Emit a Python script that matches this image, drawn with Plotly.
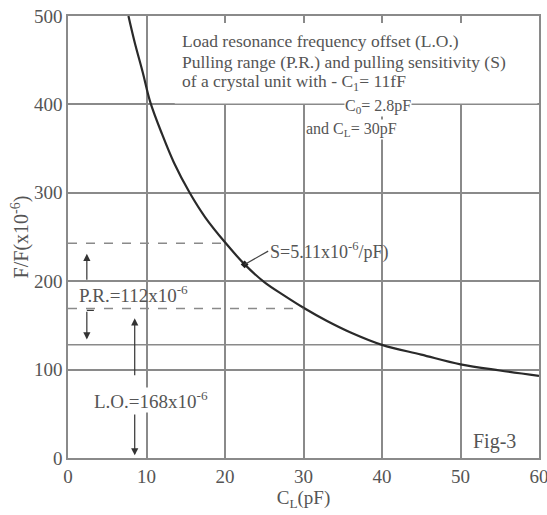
import plotly.graph_objects as go

# ---- data ----
cl_pf = [7.7, 8.5, 9.5, 10.5, 12, 13.5, 15.5, 17.5, 20, 22.5, 25, 27.5, 30, 33, 36, 40, 45, 50, 55, 60]
offset_ppm = [500, 470, 437, 402, 366, 334, 300, 272, 244, 219, 199, 184, 170, 155, 142, 128, 117, 106, 99, 93]

x_ticks = [0, 10, 20, 30, 40, 50, 60]
y_ticks = [0, 100, 200, 300, 400, 500]
extra_grid_y = 128
pr_top = 243          # dashed upper level
lo_level = 169        # dashed lower level (L.O. at CL=30)
pr_top_x = 19.6
lo_x = 30
s_point = (22.5, 219)

FONT = "Liberation Serif, Times New Roman, serif"
TXT = "#555555"
GRID = "#8a8a8a"

fig = go.Figure()

fig.add_trace(go.Scatter(
    x=cl_pf, y=offset_ppm, mode="lines", line=dict(color="#2a2a2a", width=2.2, shape="spline", smoothing=1.0),
    hoverinfo="skip", showlegend=False))
fig.add_trace(go.Scatter(
    x=[s_point[0]], y=[s_point[1]], mode="markers",
    marker=dict(symbol="diamond", size=6, color="#222222"), showlegend=False, hoverinfo="skip"))

shapes = []
# white text box region hiding gridlines
shapes.append(dict(type="rect", xref="x", yref="y", x0=13.6, x1=59.8, y0=401, y1=492,
                   fillcolor="white", line=dict(width=0), layer="between"))
# extra horizontal grid line
shapes.append(dict(type="line", xref="x", yref="y", x0=0, x1=60, y0=extra_grid_y, y1=extra_grid_y,
                   line=dict(color=GRID, width=1.5), layer="between"))
# dashed lines
shapes.append(dict(type="line", xref="x", yref="y", x0=0, x1=pr_top_x, y0=pr_top, y1=pr_top,
                   line=dict(color=GRID, width=1.5, dash="dash")))
shapes.append(dict(type="line", xref="x", yref="y", x0=0, x1=lo_x, y0=lo_level, y1=lo_level,
                   line=dict(color=GRID, width=1.5, dash="dash")))
# small hook of the down arrow
shapes.append(dict(type="line", xref="x", yref="y", x0=2.4, x1=3.3, y0=lo_level - 2, y1=lo_level - 2,
                   line=dict(color="#333333", width=1.2)))
fig.update_layout(shapes=shapes)

ann = []
def txt(x, y, s, xanchor="left", bg=None, size=17.5):
    d = dict(x=x, y=y, xref="x", yref="y", text=s, showarrow=False, xanchor=xanchor, yanchor="middle",
             font=dict(family=FONT, size=size, color=TXT))
    if bg:
        d["bgcolor"] = bg
        d["borderpad"] = 0
    ann.append(d)

txt(14.3, 472, "Load resonance frequency offset (L.O.)")
txt(14.3, 448, "Pulling range (P.R.) and pulling sensitivity (S)")
txt(14.3, 425, "of a crystal unit with - C<sub>1</sub>= 11fF")
txt(39.5, 398, "C<sub>0</sub>= 2.8pF", xanchor="center", bg="white", size=16)
txt(30.2, 372, "and C<sub>L</sub>= 30pF", bg="white", size=16)
txt(1.2, 186, "P.R.=112x10<sup>-6</sup>", size=19)
txt(3.2, 66, "L.O.=168x10<sup>-6</sup>", bg="white", size=19)
txt(51.3, 19, "Fig-3", size=20)

# S label with leader line
ann.append(dict(x=s_point[0], y=s_point[1], ax=25.5, ay=234, xref="x", yref="y", axref="x", ayref="y",
                text="S=5.11x10<sup>-6</sup>/pF)", showarrow=True, arrowhead=0, arrowwidth=1.2,
                arrowcolor="#444444", xanchor="left", yanchor="middle",
                font=dict(family=FONT, size=18, color=TXT)))

def arrow(x, y0, y1):
    ann.append(dict(x=x, y=y1, ax=x, ay=y0, xref="x", yref="y", axref="x", ayref="y", text="",
                    showarrow=True, arrowhead=2, arrowsize=1.2, arrowwidth=1.2, arrowcolor="#333333",
                    standoff=0, startstandoff=0))

arrow(2.4, 200, 231)
arrow(2.4, lo_level - 2, 134)
arrow(8.5, 92, 158)
arrow(8.5, 51, 3)
fig.update_layout(annotations=ann)

fig.update_xaxes(range=[0, 60], tickvals=x_ticks, showgrid=True, gridcolor=GRID, gridwidth=1.5,
                 zeroline=False, showline=True, linecolor=GRID, linewidth=1.5, mirror="allticks",
                 ticks="inside", ticklen=6, tickcolor=GRID, tickwidth=1.5, automargin=False,
                 ticklabeloverflow="allow",
                 tickfont=dict(family=FONT, size=19, color=TXT),
                 title=dict(text="C<sub>L</sub>(pF)", font=dict(family=FONT, size=19, color=TXT), standoff=2))
fig.update_yaxes(range=[0, 500], tickvals=y_ticks, showgrid=True, gridcolor=GRID, gridwidth=1.5,
                 zeroline=False, showline=True, linecolor=GRID, linewidth=1.5, mirror=True,
                 ticks="", automargin=False, ticklabeloverflow="allow",
                 tickfont=dict(family=FONT, size=19, color=TXT),
                 title=dict(text="F/F(x10<sup>-6</sup>)", font=dict(family=FONT, size=20, color=TXT), standoff=0))

fig.update_layout(width=547, height=515, autosize=False, margin=dict(l=68, r=8, t=16, b=57),
                  plot_bgcolor="white", paper_bgcolor="white", showlegend=False)

fig.write_html("out.html", config={"responsive": False, "displayModeBar": False},
               post_script="document.body.style.margin='0';document.body.style.overflow='hidden';")
